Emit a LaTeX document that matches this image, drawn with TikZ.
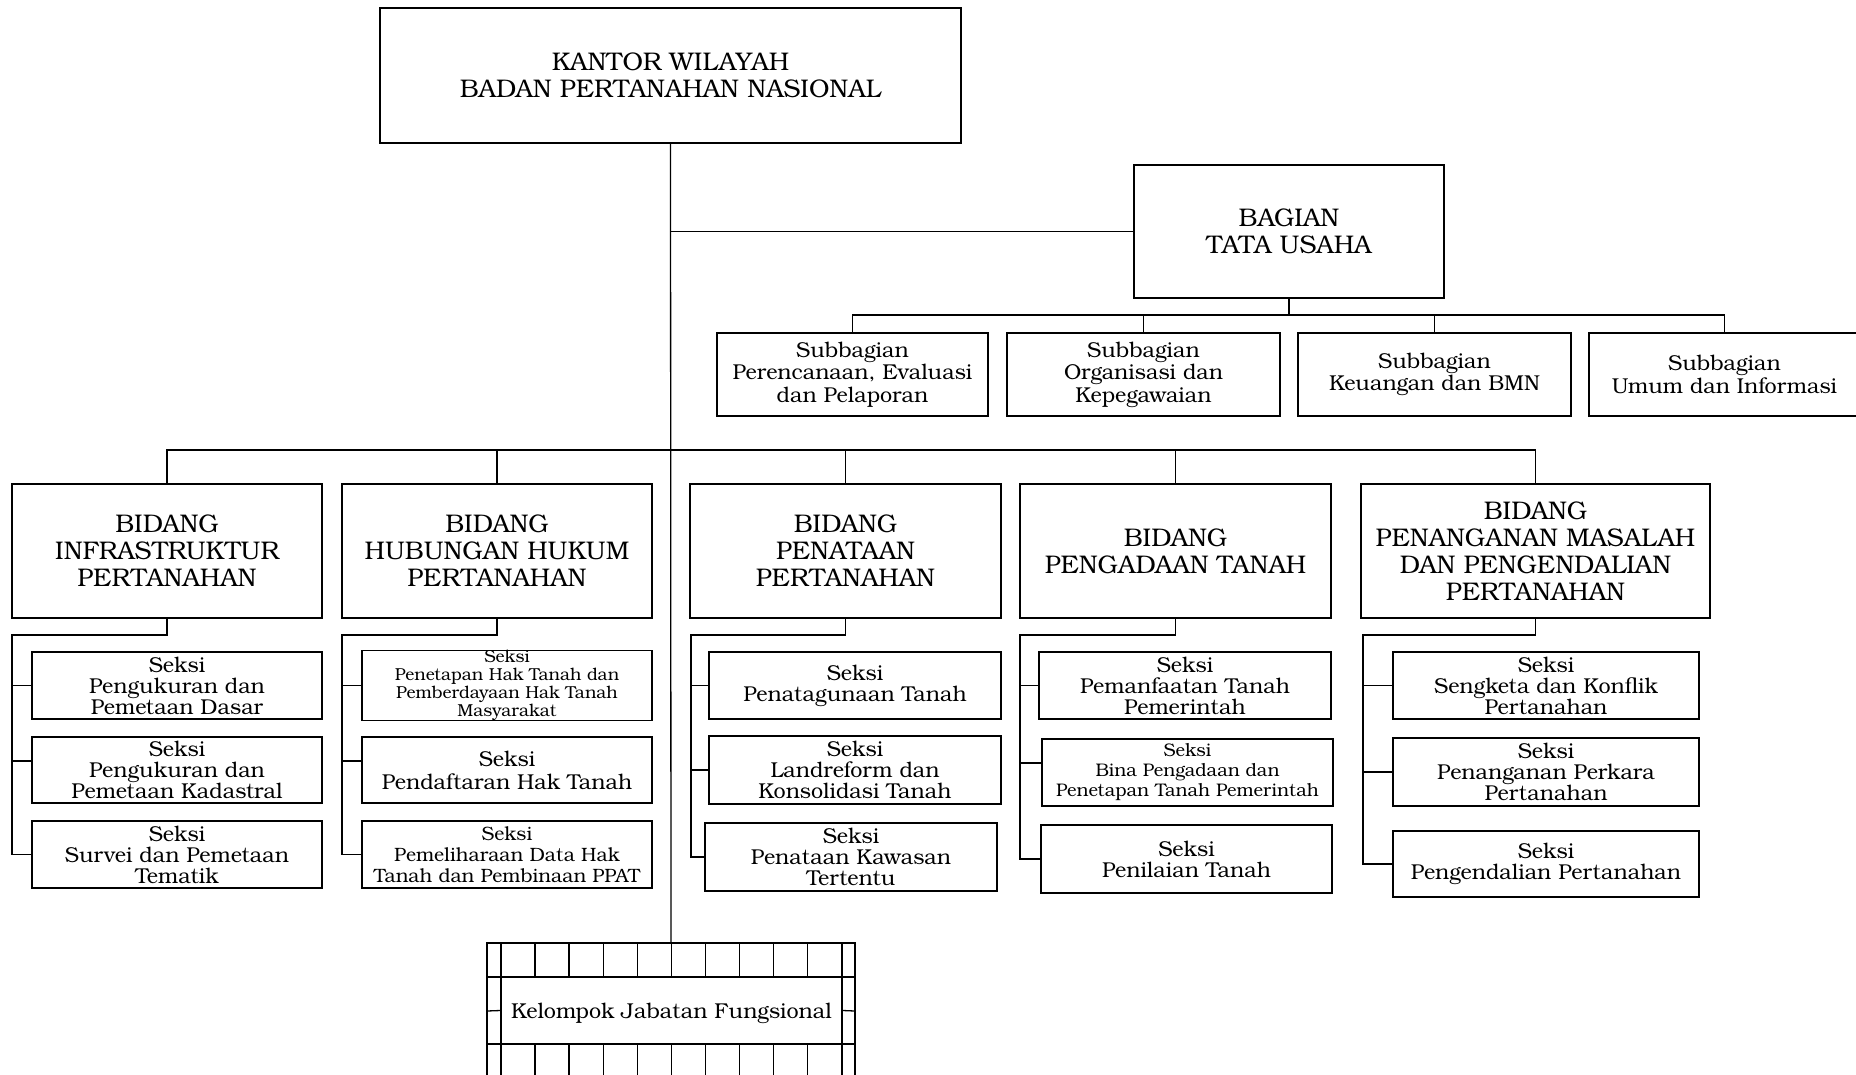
\documentclass[tikz,border=0pt]{standalone}
\usepackage{fontspec}
\setmainfont{texgyrebonum}[Extension=.otf,UprightFont=*-regular,BoldFont=*-bold,ItalicFont=*-italic,BoldItalicFont=*-bolditalic]
\begin{document}
\begin{tikzpicture}[x=1pt,y=-1pt,line width=1.3pt,
  bx/.style={draw,inner sep=0pt,align=center},
  head/.style={font=\fontsize{25.5}{27}\selectfont},
  subf/.style={font=\fontsize{21.5}{22.5}\selectfont},
  sek/.style={font=\fontsize{21.5}{21}\selectfont}]
\useasboundingbox (0,0) rectangle (1856,1074);
\clip (0,0) rectangle (1856,1074);
% top level
\node[bx,head,minimum width=581pt,minimum height=135pt] (top) at (670.5,75.5) {KANTOR WILAYAH\\BADAN PERTANAHAN NASIONAL};
\node[bx,head,minimum width=310pt,minimum height=133pt] (bag) at (1289,231.5) {BAGIAN\\TATA USAHA};
% subbagian
\node[bx,subf,minimum width=271pt,minimum height=83pt] (sub1) at (852.5,374.5) {Subbagian\\Perencanaan, Evaluasi\\dan Pelaporan};
\node[bx,subf,minimum width=273pt,minimum height=83pt] (sub2) at (1143.5,374.5) {Subbagian\\Organisasi dan\\Kepegawaian};
\node[bx,subf,minimum width=273pt,minimum height=83pt] (sub3) at (1434.5,374.5) {Subbagian\\Keuangan dan BMN};
\node[bx,subf,minimum width=271pt,minimum height=83pt] (sub4) at (1724.5,374.5) {Subbagian\\Umum dan Informasi};
% bidang
\node[bx,head,minimum width=310pt,minimum height=134pt] (b1) at (167,551) {BIDANG\\INFRASTRUKTUR\\PERTANAHAN};
\node[bx,head,minimum width=310pt,minimum height=134pt] (b2) at (497,551) {BIDANG\\HUBUNGAN HUKUM\\PERTANAHAN};
\node[bx,head,minimum width=311pt,minimum height=134pt] (b3) at (845.5,551) {BIDANG\\PENATAAN\\PERTANAHAN};
\node[bx,head,minimum width=311pt,minimum height=134pt] (b4) at (1175.5,551) {BIDANG\\PENGADAAN TANAH};
\node[bx,head,minimum width=349pt,minimum height=134pt] (b5) at (1535.5,551) {BIDANG\\PENANGANAN MASALAH\\DAN PENGENDALIAN\\PERTANAHAN};
% seksi col 1
\node[bx,sek,minimum width=290pt,minimum height=67pt] (s11) at (177,685.5) {Seksi\\Pengukuran dan\\Pemetaan Dasar};
\node[bx,sek,minimum width=290pt,minimum height=66pt] (s12) at (177,770) {Seksi\\Pengukuran dan\\Pemetaan Kadastral};
\node[bx,sek,minimum width=290pt,minimum height=67pt] (s13) at (177,854.5) {Seksi\\Survei dan Pemetaan\\Tematik};
% seksi col 2
\node[bx,font=\fontsize{17.3}{18}\selectfont,minimum width=290pt,minimum height=67pt] (s21) at (507,685.5) {Seksi\\Penetapan Hak Tanah dan\\Pemberdayaan Hak Tanah\\Masyarakat};
\node[bx,font=\fontsize{21.5}{23}\selectfont,minimum width=290pt,minimum height=66pt] (s22) at (507,770) {Seksi\\Pendaftaran Hak Tanah};
\node[bx,font=\fontsize{19.3}{21}\selectfont,minimum width=290pt,minimum height=67pt] (s23) at (507,854.5) {Seksi\\Pemeliharaan Data Hak\\Tanah dan Pembinaan PPAT};
% seksi col 3
\node[bx,sek,minimum width=292pt,minimum height=67pt] (s31) at (855,685.5) {Seksi\\Penatagunaan Tanah};
\node[bx,sek,minimum width=292pt,minimum height=68pt] (s32) at (855,770) {Seksi\\Landreform dan\\Konsolidasi Tanah};
\node[bx,sek,minimum width=292pt,minimum height=68pt] (s33) at (851,857) {Seksi\\Penataan Kawasan\\Tertentu};
% seksi col 4
\node[bx,sek,minimum width=292pt,minimum height=67pt] (s41) at (1185,685.5) {Seksi\\Pemanfaatan Tanah\\Pemerintah};
\node[bx,font=\fontsize{18.2}{20}\selectfont,minimum width=291pt,minimum height=67pt] (s42) at (1187.5,772.5) {Seksi\\Bina Pengadaan dan\\Penetapan Tanah Pemerintah};
\node[bx,sek,minimum width=291pt,minimum height=68pt] (s43) at (1186.5,859) {Seksi\\Penilaian Tanah};
% seksi col 5
\node[bx,sek,minimum width=306pt,minimum height=67pt] (s51) at (1546,685.5) {Seksi\\Sengketa dan Konflik\\Pertanahan};
\node[bx,sek,minimum width=306pt,minimum height=68pt] (s52) at (1546,772) {Seksi\\Penanganan Perkara\\Pertanahan};
\node[bx,sek,minimum width=306pt,minimum height=66pt] (s53) at (1546,864) {Seksi\\Pengendalian Pertanahan};
% kelompok jabatan fungsional
\node[bx,font=\fontsize{21.5}{23}\selectfont,text depth=0pt,minimum width=341pt,minimum height=67pt] (kjf) at (671.5,1010.5) {Kelompok Jabatan Fungsional};
\coordinate (kjftop) at (671,943);
% grid frame of kelompok
\draw (487,1090) -- (487,943) -- (855,943) -- (855,1090);
\draw (487,977) -- (855,977);
\draw (487,1044) -- (855,1044);
\draw (501,943) -- (501,1090);
\draw (842,943) -- (842,1090);
\foreach \i in {1,...,9} {
  \draw ({501+34.07*\i},943) -- ({501+34.07*\i},977);
  \draw ({501+34.07*\i},1044) -- ({501+34.07*\i},1090);
}
\draw (487,1011) -- (kjf.west);
\draw (kjf.east) -- (855,1011);
% trunk
\draw (top.south) -- (kjftop);
\draw (top.south |- bag.west) -- (bag.west);
% subbagian bus
\coordinate (sb) at (1289,315);
\draw (bag.south) -- (sb);
\draw (sub1.north) -- (sub1.north |- sb) -- (sub4.north |- sb) -- (sub4.north);
\draw (sub2.north) -- (sub2.north |- sb);
\draw (sub3.north) -- (sub3.north |- sb);
% bidang bus
\coordinate (bb) at (671,450);
\draw (b1.north) -- (b1.north |- bb) -- (b5.north |- bb) -- (b5.north);
\draw (b2.north) -- (b2.north |- bb);
\draw (b3.north) -- (b3.north |- bb);
\draw (b4.north) -- (b4.north |- bb);
% seksi brackets
\coordinate (k1) at (12,635);
\draw (b1.south) |- (k1) |- (s13.west);
\draw (k1 |- s11.west) -- (s11.west);
\draw ([yshift=9pt]k1 |- s12.west) -- ([yshift=9pt]s12.west);
\coordinate (k2) at (342,635);
\draw (b2.south) |- (k2) |- (s23.west);
\draw (k2 |- s21.west) -- (s21.west);
\draw ([yshift=9pt]k2 |- s22.west) -- ([yshift=9pt]s22.west);
\coordinate (k3) at (691,635);
\draw (b3.south) |- (k3) |- (s33.west);
\draw (k3 |- s31.west) -- (s31.west);
\draw (k3 |- s32.west) -- (s32.west);
\coordinate (k4) at (1020,635);
\draw (b4.south) |- (k4) |- (s43.west);
\draw (k4 |- s41.west) -- (s41.west);
\draw ([yshift=9.5pt]k4 |- s42.west) -- ([yshift=9.5pt]s42.west);
\coordinate (k5) at (1363,635);
\draw (b5.south) |- (k5) |- (s53.west);
\draw (k5 |- s51.west) -- (s51.west);
\draw (k5 |- s52.west) -- (s52.west);
\end{tikzpicture}
\end{document}
